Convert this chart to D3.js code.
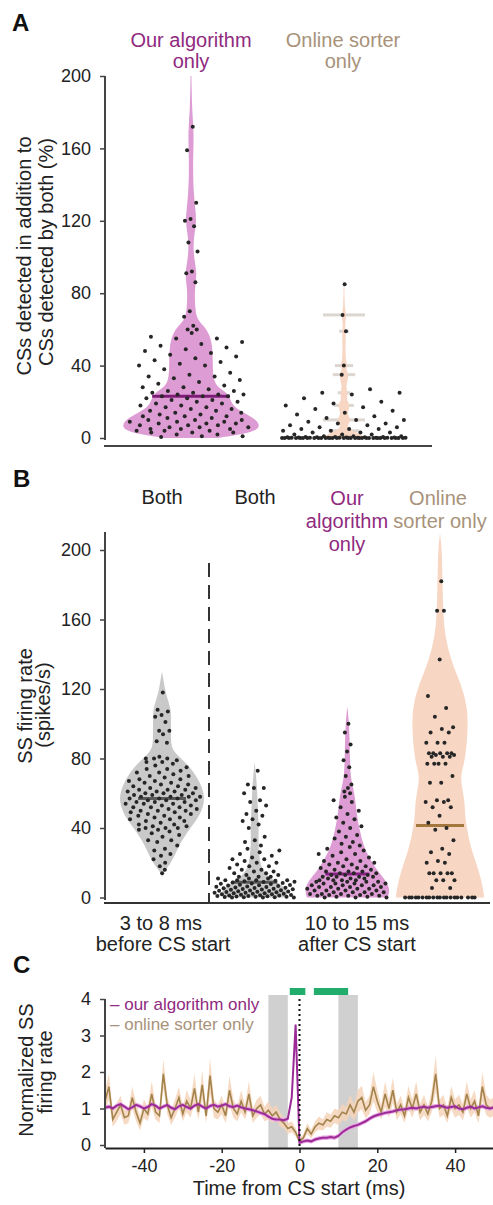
<!DOCTYPE html>
<html><head><meta charset="utf-8">
<script src="https://cdn.jsdelivr.net/npm/d3@7"></script>
<style>
body{margin:0;background:#fff}
text{font-family:Arial,"Liberation Sans",sans-serif}
</style>
</head><body>
<script>
// ---------- Panel A: extra CSs (% of CSs detected by both) ----------
const aCategories = ["Our algorithm only", "Online sorter only"];
const aTicks = [0, 40, 80, 120, 160, 200];
const aOursValues = [172,159,130,121,120,117,108,103,92,91,86,70,67,
  62,60,60,58,56,55,55,53,52,51,50,49,48,47,46,45,44,43,42,41,40,40,38,
  36,35,34,34,33,32,31,30,29,28,28,27,26,26,25,25,24,24,24,23,23,23,22,22,21,21,20,20,
  19,19,18,18,17,17,16,16,15,15,14,14,13,13,12,12,12,11,11,10,10,10,9,9,9,8,8,8,7,7,7,
  6,6,6,5,5,5,4,4,4,3,3,3,2,2,1,1,0.5];
const aOnlineValues = [85,68,59,40,35,27,25,25,24,22,20,19,18,17,16,15,14,13,12,11,10,10,9,8,8,7,7,
  6,6,5,5,5,4,4,3,3,3,2,2,2,1,1,1,
  0.5,0.5,0.5,0.4,0.4,0.4,0.3,0.3,0.3,0.2,0.2,0.2,0.2,0.1,0.1,0.1,0.1,0,0,0,0,0,0,0,0,0,0,0,0,
  0,0,0,0,0,0,0,0,0,0,0,0,0,0,0,0,0,0];
// violin outlines: [value, relative half-width]
const aOursViolin = [[0,0.37],[2,0.75],[5,1.0],[10,0.95],[14,0.75],[18,0.58],[24,0.55],[27,0.42],
  [31,0.32],[40,0.31],[50,0.31],[57,0.27],[62,0.18],[66,0.08],[72,0.06],[80,0.05],[86,0.07],
  [92,0.08],[98,0.05],[106,0.03],[113,0.05],[120,0.08],[127,0.06],[135,0.04],[145,0.03],
  [155,0.03],[165,0.04],[175,0.03],[182,0.015],[200,0.006]];
const aOnlineViolin = [[0,0.3],[2,0.25],[4,0.1],[7,0.03],[10,0.12],[13,0.03],[18,0.1],[21,0.03],
  [25,0.06],[28,0.02],[35,0.08],[38,0.02],[40,0.06],[43,0.015],[59,0.03],[62,0.01],[68,0.04],[71,0.01],[85,0.005]];
// light histogram bars behind the online-sorter violin: [value, relative half-width]
const aOnlineBins = [[68,0.3],[59,0.07],[40,0.13],[35,0.16],[25,0.09],[18,0.14],[10,0.3],[4,0.22]];

// ---------- Panel B: SS firing rate (spikes/s) ----------
const bCategories = ["Both (before)", "Both (after)", "Our algorithm only", "Online sorter only"];
const bTicks = [0, 40, 80, 120, 160, 200];
const bBothBefore = [118,108,107,105,104,101,96,96,94,90,89,
  81,80,80,80,79,78,78,77,76,75,74,74,73,72,72,71,70,70,69,68,68,67,67,66,66,65,65,64,64,63,63,
  62,62,62,61,61,61,60,60,60,59,59,59,58,58,58,58,57,57,57,56,56,56,55,55,55,54,54,54,53,53,
  52,52,52,51,51,50,50,50,49,49,48,48,47,47,46,46,45,45,44,44,43,42,42,41,41,40,40,40,39,39,
  38,37,36,35,33,33,32,30,28,27,25,24,22,20,18,16,14];
const bBothAfter = [73,65,63,63,60,56,55,53,50,48,47,45,44,42,40,
  35,33,32,30,28,27,26,25,24,23,22,22,21,20,20,
  19,18,18,17,16,16,15,15,14,14,13,13,12,12,12,11,11,11,10,10,10,10,
  9.7,9.4,9.1,8.9,8.6,8.3,8.1,7.9,7.7,7.4,7.2,7.1,6.9,6.6,6.4,6.2,6.1,5.8,5.6,5.5,5.3,5.1,
  4.9,4.7,4.6,4.4,4.2,4.1,3.9,3.8,3.6,3.4,3.3,3.1,3.0,2.8,2.7,2.5,2.4,2.2,2.1,1.9,1.8,1.6,
  1.5,1.3,1.2,1.1,0.9,0.8,0.7,0.6,0.5,0.4,0.3,0.2,0.1,0,0,0];
const bOursAfter = [100,95,88,84,79,75,70,65,63,61,60,58,56,55,52,50,48,46,45,43,41,40,
  38,36,35,34,32,31,30,29,28,27,26,25,25,24,23,22,21,21,20,20,19,19,18,18,17,17,16,16,
  15,15,15,14,14,14,13,13,13,12,12,12,12,11,11,11,10,10,10,10,9,9,9,9,8,8,8,8,7,7,7,7,
  6,6,6,6,5,5,5,5,4,4,4,4,3,3,3,3,2,2,2,2,1.5,1.5,1,1,1,0.5,0.5,0,0,0];
const bOnlineAfter = [182,165,165,137,116,109,104,98,97,95,95,89,89,89,83,83,83,83,83,82,82,
  81,81,81,77,77,77,77,70,66,66,56,56,55,55,52,52,47,43,40,39,33,28,26,25,21,20,20,14,14,14,
  14,14,10,10,10,5.5,5.5,0,0,0,0,0,0,0,0,0,0,0,0,0,0,0,0,0,0,0,0];
const bBeforeViolin = [[12,0],[15,0.05],[20,0.2],[25,0.3],[30,0.38],[35,0.5],[40,0.63],[45,0.78],
  [50,0.88],[55,0.94],[60,0.93],[65,0.86],[70,0.76],[75,0.62],[80,0.42],[84,0.26],[88,0.2],
  [95,0.2],[102,0.2],[108,0.2],[113,0.14],[118,0.08],[124,0.04],[130,0]];
const bBothAfterViolin = [[0,0.7],[4,0.75],[8,0.55],[12,0.3],[16,0.18],[20,0.12],[26,0.1],[32,0.08],
  [40,0.09],[46,0.08],[52,0.07],[58,0.06],[64,0.05],[70,0.03],[78,0]];
const bOursAfterViolin = [[0,0.9],[5,0.95],[10,0.85],[15,0.68],[20,0.55],[25,0.45],[30,0.36],
  [40,0.26],[50,0.2],[58,0.17],[64,0.12],[70,0.07],[80,0.06],[90,0.05],[100,0.04],[110,0]];
const bOnlineAfterViolin = [[0,0.98],[5,0.96],[15,0.87],[25,0.73],[35,0.63],[45,0.56],[55,0.55],
  [62,0.5],[70,0.45],[78,0.55],[90,0.6],[100,0.62],[110,0.6],[120,0.5],[128,0.38],[137,0.24],
  [150,0.12],[160,0.08],[175,0.06],[190,0.05],[200,0.04],[210,0]];

// ---------- Panel C: normalized SS firing rate ----------
const cTime = d3.range(-50, 51); // ms, 1 ms bins
const cOurs = [1.02,1.05,1.0,1.08,1.12,1.05,0.98,1.03,1.1,1.06,1.0,1.04,1.12,1.08,1.0,1.05,1.1,
  1.02,0.98,1.06,1.1,1.04,1.0,1.08,1.12,1.05,1.0,1.07,1.1,1.05,1.08,1.12,1.06,1.04,1.08,1.03,
  1.0,0.98,0.95,0.92,0.88,0.85,0.78,0.72,0.7,0.7,0.68,0.72,1.3,3.3,
  0.06,0.1,0.12,0.1,0.15,0.18,0.2,0.2,0.22,0.2,0.25,0.35,0.42,0.48,0.52,0.55,0.6,0.65,0.72,
  0.78,0.82,0.85,0.88,0.9,0.92,0.95,0.97,0.98,1.0,1.02,1.0,1.03,1.05,1.02,1.04,1.06,1.08,
  1.05,1.02,1.04,1.06,1.0,0.98,1.02,1.05,1.0,1.03,1.06,1.02,1.0,1.03];
const cOursSem = 0.06;
const cOnline = [1.2,1.6,0.7,0.9,1.1,0.75,0.8,1.3,0.9,0.6,1.0,0.85,1.4,0.9,0.8,1.95,1.1,0.75,
  1.0,1.3,0.85,1.2,1.0,1.55,0.9,1.65,0.8,1.9,1.0,0.9,1.1,0.8,1.5,1.0,0.85,1.2,0.9,1.4,0.8,1.0,
  1.1,0.85,0.95,0.8,0.9,0.7,0.6,0.45,0.5,0.35,
  0.1,0.2,0.45,0.3,0.5,0.6,0.55,0.7,0.65,0.8,0.75,0.9,0.85,1.1,0.9,1.2,1.3,0.95,1.1,1.6,1.2,
  0.9,1.4,1.0,1.5,0.9,1.1,0.8,1.3,1.0,1.4,0.9,1.1,0.85,1.2,1.95,1.0,1.1,0.8,1.3,1.0,1.1,
  0.9,1.4,1.0,1.2,0.8,1.6,1.1,1.0,1.05];
const cOnlineSem = [0.3,0.35,0.2,0.25,0.25,0.2,0.2,0.3,0.25,0.2,0.25,0.2,0.35,0.2,0.2,0.4,0.25,
  0.2,0.25,0.3,0.2,0.3,0.25,0.4,0.2,0.4,0.2,0.5,0.25,0.2,0.25,0.2,0.4,0.25,0.2,0.3,0.2,0.35,
  0.2,0.25,0.25,0.2,0.25,0.2,0.2,0.2,0.15,0.15,0.15,0.12,0.08,0.1,0.15,0.12,0.15,0.18,0.15,
  0.2,0.18,0.2,0.2,0.22,0.2,0.28,0.22,0.3,0.32,0.22,0.25,0.4,0.3,0.2,0.35,0.25,0.35,0.22,0.25,
  0.2,0.32,0.25,0.35,0.22,0.28,0.2,0.3,0.5,0.25,0.28,0.2,0.32,0.25,0.28,0.22,0.35,0.25,
  0.3,0.2,0.4,0.28,0.25,0.25];
const cAnalysisWindows = [[-8, -3], [10, 15]];
const cSignificant = [[-2.5, 1.5], [3.7, 12.5]];
const cXTicks = [-40, -20, 0, 20, 40];
const cYTicks = [0, 1, 2, 3, 4];

// ---------- drawing ----------
const W = 493, H = 1205;
const svg = d3.select("body").append("svg").attr("width", W).attr("height", H);

const PURPLE_TXT = "#8f2a80", TAN_TXT = "#a8927a";
const PINK = "#dd9dd4", PEACH = "#f7d7c4", GRAY = "#c9c9c9";
const DOT = "#262626";
const FONT = "Arial, 'Liberation Sans', sans-serif";

function label(x, y, str, opts = {}) {
  return svg.append("text").attr("x", x).attr("y", y).text(str)
    .attr("font-size", opts.size || 20).attr("fill", opts.fill || "#222")
    .attr("text-anchor", opts.anchor || "middle")
    .attr("font-weight", opts.weight || "normal");
}
function vlabel(x, y, str, size = 20) {
  svg.append("text").attr("transform", `translate(${x},${y}) rotate(-90)`)
    .attr("text-anchor", "middle").attr("font-size", size).attr("fill", "#222").text(str);
}
function yAxis(scale, ticks, x, lo, hi) {
  const g = svg.append("g").attr("transform", `translate(${x},0)`)
    .call(d3.axisLeft(scale).tickValues(ticks).tickFormat(d => String(d))
      .tickSize(5).tickPadding(9).tickSizeOuter(0));
  g.select(".domain").remove();
  g.selectAll(".tick line").attr("stroke", "#444").attr("stroke-width", 1.5);
  g.selectAll(".tick text").attr("font-size", 18).attr("fill", "#222").attr("font-family", FONT);
  g.append("line").attr("y1", lo).attr("y2", hi).attr("stroke", "#444").attr("stroke-width", 2);
  return g;
}
function profileScale(profile) {
  return d3.scaleLinear().domain(profile.map(d => d[0])).range(profile.map(d => d[1])).clamp(true);
}
// violin + jittered dots + median line
function violinGroup(values, profile, cx, y, w, fill, opts) {
  const hw = profileScale(profile);
  const area = d3.area().curve(d3.curveBasis)
    .y(d => y(d[0])).x0(d => cx - w(d[1])).x1(d => cx + w(d[1]));
  if (opts.bins) {
    svg.append("g").selectAll("rect").data(opts.bins).join("rect")
      .attr("x", d => cx - w(d[1])).attr("width", d => 2 * w(d[1]))
      .attr("y", d => y(d[0]) - 1.5).attr("height", 3).attr("fill", "#dcd6d0");
  }
  svg.append("path").datum(profile).attr("d", area).attr("fill", fill);
  const med = d3.median(values);
  const mh = Math.min(w(hw(med)), opts.medMax);
  svg.append("line").attr("x1", cx - mh).attr("x2", cx + mh).attr("y1", y(med)).attr("y2", y(med))
    .attr("stroke", opts.medColor).attr("stroke-width", 3);
  const spread = opts.spread || (v => w(hw(v)));
  svg.append("g").selectAll("circle").data(values).join("circle")
    .attr("cx", (v, i) => cx + (2 * (((i + 1) * 0.6180339887) % 1) - 1) * spread(v) * 0.92)
    .attr("cy", v => y(v)).attr("r", 2).attr("fill", DOT);
}

// Panel A
label(12, 31, "A", { anchor: "start", size: 24, weight: "bold", fill: "#111" });
const yA = d3.scaleLinear().domain([0, 200]).range([438, 76]);
const xA = d3.scalePoint().domain(aCategories).range([191, 344]);
const wA = d3.scaleLinear().domain([0, 1]).range([0, 70]);
yAxis(yA, aTicks, 105, 76, 440);
svg.append("line").attr("x1", 104).attr("x2", 432).attr("y1", 446).attr("y2", 446)
  .attr("stroke", "#444").attr("stroke-width", 2);
const aOursHw = profileScale(aOursViolin);
violinGroup(aOursValues, aOursViolin, xA(aCategories[0]), yA, wA, PINK,
  { medColor: "#7d1d78", medMax: 40, spread: v => v < 60 ? Math.max(wA(aOursHw(v)), 58) : 8 });
violinGroup(aOnlineValues, aOnlineViolin, xA(aCategories[1]), yA, wA, PEACH,
  { medColor: "#c8a88a", medMax: 6, spread: v => v < 32 ? 68 : 3, bins: aOnlineBins });
label(191, 47, "Our algorithm", { fill: PURPLE_TXT });
label(191, 68, "only", { fill: PURPLE_TXT });
label(343, 47, "Online sorter", { fill: TAN_TXT });
label(343, 68, "only", { fill: TAN_TXT });
vlabel(31, 256, "CSs detected in addition to");
vlabel(53, 252, "CSs detected by both (%)");

// Panel B
label(13, 487, "B", { anchor: "start", size: 24, weight: "bold", fill: "#111" });
const yB = d3.scaleLinear().domain([0, 200]).range([897.5, 550]);
const xB = d3.scalePoint().domain(bCategories).range([162, 440]);
const wB = d3.scaleLinear().domain([0, 1]).range([0, 45]);
yAxis(yB, bTicks, 105, 532, 900);
svg.append("line").attr("x1", 104).attr("x2", 490).attr("y1", 903).attr("y2", 903)
  .attr("stroke", "#333").attr("stroke-width", 2);
svg.append("line").attr("x1", 209).attr("x2", 209).attr("y1", 563).attr("y2", 903)
  .attr("stroke", "#333").attr("stroke-width", 2).attr("stroke-dasharray", "14,8");
violinGroup(bBothBefore, bBeforeViolin, xB(bCategories[0]), yB, wB, GRAY,
  { medColor: "#5a5a5a", medMax: 24 });
violinGroup(bBothAfter, bBothAfterViolin, xB(bCategories[1]), yB, wB, GRAY,
  { medColor: "#5a5a5a", medMax: 24, spread: v => v < 12 ? 44 : v < 30 ? 28 : 14 });
violinGroup(bOursAfter, bOursAfterViolin, xB(bCategories[2]), yB, wB, PINK,
  { medColor: "#8a1f85", medMax: 22, spread: v => v < 10 ? 44 : v < 30 ? 32 : v < 60 ? 16 : 5 });
violinGroup(bOnlineAfter, bOnlineAfterViolin, xB(bCategories[3]), yB, wB, PEACH,
  { medColor: "#a4773f", medMax: 24, spread: v => v < 1 ? 40 : v > 130 ? 6 : 16 });
label(162, 504, "Both");
label(255, 504, "Both");
label(347, 505, "Our", { fill: PURPLE_TXT });
label(347, 528, "algorithm", { fill: PURPLE_TXT });
label(347, 551, "only", { fill: PURPLE_TXT });
label(438, 505, "Online", { fill: TAN_TXT });
label(440, 528, "sorter only", { fill: TAN_TXT });
label(161, 930, "3 to 8 ms");
label(163, 951, "before CS start");
label(357, 930, "10 to 15 ms");
label(357, 951, "after CS start");
vlabel(32, 706, "SS firing rate");
vlabel(50, 705, "(spikes/s)");

// Panel C
label(13, 973, "C", { anchor: "start", size: 24, weight: "bold", fill: "#111" });
const xC = d3.scaleLinear().domain([-50, 50]).range([105, 494]);
const yC = d3.scaleLinear().domain([0, 4]).range([1145, 999]);
svg.append("g").selectAll("rect").data(cAnalysisWindows).join("rect")
  .attr("x", d => xC(d[0])).attr("width", d => xC(d[1]) - xC(d[0]))
  .attr("y", yC(4) - 4).attr("height", 1148 - yC(4) + 4).attr("fill", "#d0d0d0");
svg.append("g").selectAll("rect").data(cSignificant).join("rect")
  .attr("x", d => xC(d[0])).attr("width", d => xC(d[1]) - xC(d[0]))
  .attr("y", 988).attr("height", 7).attr("fill", "#22ad6c");
const onlineBand = d3.area().x((d, i) => xC(cTime[i]))
  .y0((d, i) => yC(Math.max(0, d - cOnlineSem[i]))).y1((d, i) => yC(d + cOnlineSem[i]));
svg.append("path").datum(cOnline).attr("d", onlineBand).attr("fill", "#f4d3b8").attr("opacity", 0.85);
const oursBand = d3.area().x((d, i) => xC(cTime[i]))
  .y0(d => yC(Math.max(0, d - cOursSem))).y1(d => yC(d + cOursSem));
svg.append("path").datum(cOurs).attr("d", oursBand).attr("fill", "#eaa7e4");
const line = d3.line().x((d, i) => xC(cTime[i])).y(d => yC(d));
svg.append("path").datum(cOnline).attr("d", line).attr("fill", "none")
  .attr("stroke", "#a3834c").attr("stroke-width", 1.6);
svg.append("path").datum(cOurs).attr("d", line).attr("fill", "none")
  .attr("stroke", "#9b2a97").attr("stroke-width", 2);
svg.append("line").attr("x1", xC(0)).attr("x2", xC(0)).attr("y1", 999).attr("y2", 1148)
  .attr("stroke", "#111").attr("stroke-width", 2).attr("stroke-dasharray", "2,3");
yAxis(yC, cYTicks, 105, 999, 1148);
const gx = svg.append("g").attr("transform", "translate(0,1148)")
  .call(d3.axisBottom(xC).tickValues(cXTicks).tickFormat(d => String(d))
    .tickSize(5).tickPadding(6).tickSizeOuter(0));
gx.select(".domain").attr("stroke", "#222").attr("stroke-width", 2);
gx.selectAll(".tick line").attr("stroke", "#222").attr("stroke-width", 1.5);
gx.selectAll(".tick text").attr("font-size", 18).attr("fill", "#222").attr("font-family", FONT);
label(110, 1010, "– our algorithm only", { anchor: "start", size: 17, fill: PURPLE_TXT });
label(110, 1030, "– online sorter only", { anchor: "start", size: 17, fill: TAN_TXT });
label(299, 1195, "Time from CS start (ms)");
vlabel(33, 1070, "Normalized SS");
vlabel(52, 1072, "firing rate");
</script>
</body></html>
